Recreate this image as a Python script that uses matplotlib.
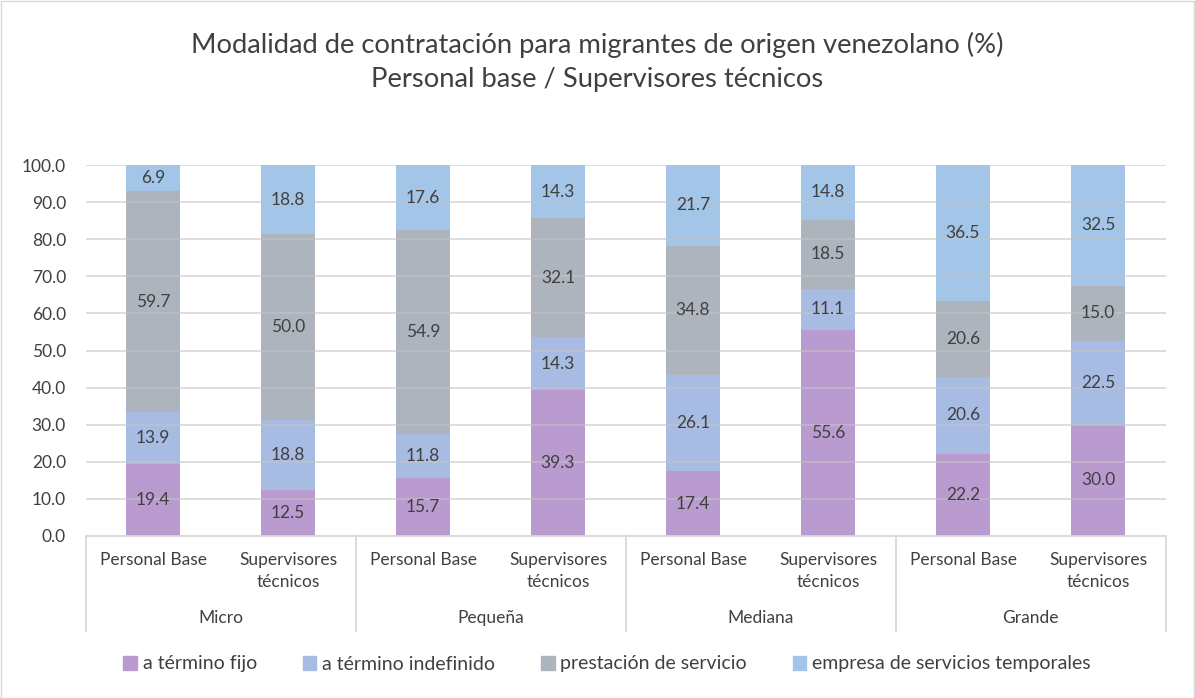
import matplotlib
matplotlib.use("Agg")
import matplotlib.pyplot as plt
from matplotlib.patches import Rectangle
import numpy as np

plt.rcParams['font.family'] = ['Lato', 'DejaVu Sans']

groups = ["Micro", "Pequeña", "Mediana", "Grande"]
subcats = ["Personal Base", "Supervisores\ntécnicos"]
series = ["a término fijo", "a término indefinido", "prestación de servicio",
          "empresa de servicios temporales"]
fijo = [19.4, 12.5, 15.7, 39.3, 17.4, 55.6, 22.2, 30.0]
indefinido = [13.9, 18.8, 11.8, 14.3, 26.1, 11.1, 20.6, 22.5]
prestacion = [59.7, 50.0, 54.9, 32.1, 34.8, 18.5, 20.6, 15.0]
temporales = [6.9, 18.8, 17.6, 14.3, 21.7, 14.8, 36.5, 32.5]
yticks = [0, 10, 20, 30, 40, 50, 60, 70, 80, 90, 100]

colors = ["#B99BD0", "#A8BBE2", "#AEB4BE", "#A3C5E7"]
text_col = "#404040"
grid_col = "#D9D9D9"

fig = plt.figure(figsize=(11.95, 6.98), dpi=100)
ax = fig.add_axes([85.5/1195, 1-536/698, 1080/1195, 371/698])

x = np.arange(len(fijo)) + 0.5
bottom = np.zeros(len(fijo))
for vals, col in zip([fijo, indefinido, prestacion, temporales], colors):
    v = np.array(vals)
    ax.bar(x, v, 0.4, bottom=bottom, color=col, zorder=1)
    for xi, b, vi in zip(x, bottom, v):
        ax.text(xi, b + vi/2, f"{vi:.1f}", ha="center", va="center",
                fontsize=12.5, color=text_col, zorder=4)
    bottom += v

for t in yticks[1:]:
    ax.axhline(t, color="#C4C4C4", lw=1.3, alpha=0.6, zorder=3)

ax.set_xlim(0, 8)
ax.set_ylim(0, 100)
ax.set_yticks(yticks)
ax.set_yticklabels([f"{t:.1f}" for t in yticks], fontsize=12.5, color=text_col)
ax.tick_params(axis="y", length=0, pad=14)
ax.set_xticks([])
for s in ["left", "right", "top"]:
    ax.spines[s].set_visible(False)
ax.spines["bottom"].set_color(grid_col)
ax.spines["bottom"].set_linewidth(1.3)

# category labels
lab_tr = ax.get_xaxis_transform()
for i, xi in enumerate(x):
    ax.text(xi, -0.042, subcats[i % 2], transform=lab_tr, ha="center", va="top",
            fontsize=12.5, color=text_col, linespacing=1.5)
for g, name in enumerate(groups):
    ax.text(2*g + 1, -0.222, name, transform=lab_tr, ha="center", va="center",
            fontsize=12.5, color=text_col)
for b in range(5):
    ax.plot([2*b, 2*b], [0, -0.255], transform=lab_tr, color=grid_col,
            lw=1.3, clip_on=False)

fig.text(0.5, 1-45/698, "Modalidad de contratación para migrantes de origen venezolano (%)",
         ha="center", va="center", fontsize=19.7, color=text_col)
fig.text(0.5, 1-80/698, "Personal base / Supervisores técnicos",
         ha="center", va="center", fontsize=19.7, color=text_col)

handles = [Rectangle((0, 0), 1, 1, color=c) for c in colors]
fig.legend(handles, series, loc="center", bbox_to_anchor=(0.508, 1-664/698), ncol=4,
           frameon=False, fontsize=14, handlelength=0.7, handleheight=0.7,
           handletextpad=0.3, columnspacing=2.35, labelcolor=text_col)

fig.add_artist(Rectangle((0.5/1195, 0.5/698), 1-1.5/1195, 1-1.5/698,
                         transform=fig.transFigure, fill=False,
                         edgecolor=grid_col, lw=1))

fig.savefig("out.png", dpi=100, facecolor="white")
